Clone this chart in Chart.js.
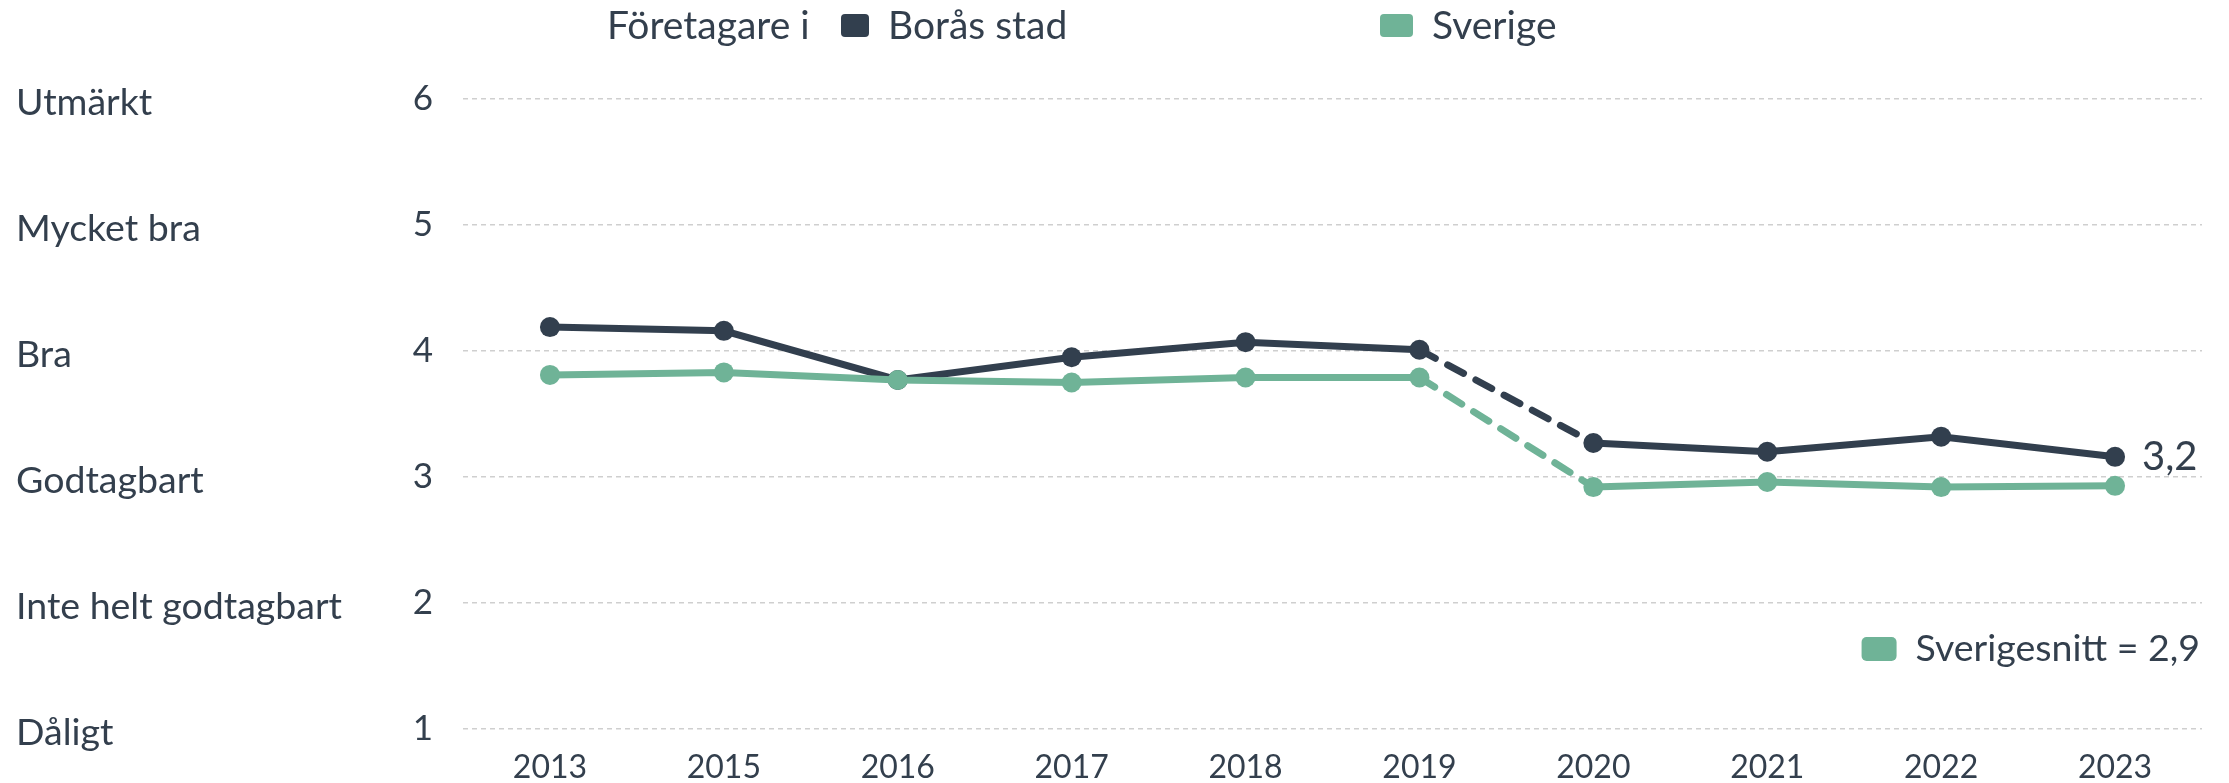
<!DOCTYPE html>
<html lang="sv">
<head>
<meta charset="utf-8">
<title>Företagare i Borås stad</title>
<script src="https://cdn.jsdelivr.net/npm/chart.js@4/dist/chart.umd.min.js"></script>
<style>
  html, body { margin: 0; padding: 0; background: #fff; }
  #wrap { width: 2229px; height: 783px; position: relative; }
</style>
</head>
<body>
<div id="wrap"><canvas id="lineChart"></canvas></div>
<script>
// år och värden
const years = ['2013', '2015', '2016', '2017', '2018', '2019', '2020', '2021', '2022', '2023'];
const borasValues = [4.19, 4.16, 3.77, 3.95, 4.07, 4.01, 3.27, 3.20, 3.32, 3.16];
const sverigeValues = [3.81, 3.83, 3.77, 3.75, 3.79, 3.79, 2.92, 2.96, 2.92, 2.93];
const ratingLabels = ['Dåligt', 'Inte helt godtagbart', 'Godtagbart', 'Bra', 'Mycket bra', 'Utmärkt'];
const legendPrefix = 'Företagare i';
const seriesNames = ['Borås stad', 'Sverige'];
const lastValueLabel = '3,2';
const averageLabel = 'Sverigesnitt = 2,9';

const dark = '#323f4e';
const green = '#6fb397';
const textColor = '#333f4d';
const FONT = 'Lato, "Open Sans", sans-serif';

// streckad linje mellan 2019 och 2020
const dashGap = ctx => ctx.p0DataIndex === 5 ? [18, 14] : undefined;

function roundBox(c, x, y, w, h, r) {
    c.beginPath();
    c.roundRect(x, y, w, h, r);
    c.fill();
}

const extras = {
    id: 'extras',
    afterDraw(chart) {
        const c = chart.ctx;
        const yScale = chart.scales.y;
        c.save();
        c.fillStyle = textColor;
        c.textBaseline = 'middle';

        // betyg till vänster
        c.font = '37.5px ' + FONT;
        c.textAlign = 'left';
        ratingLabels.forEach((txt, i) => {
            c.fillText(txt, 16, yScale.getPixelForValue(i + 1) + 4);
        });

        // legend överst
        c.font = '39px ' + FONT;
        c.fillText(legendPrefix, 607, 26);
        c.fillStyle = dark;
        roundBox(c, 841, 14, 28, 23, 4);
        c.fillStyle = textColor;
        c.fillText(seriesNames[0], 888, 26);
        c.fillStyle = green;
        roundBox(c, 1380, 14, 33, 23, 4);
        c.fillStyle = textColor;
        c.fillText(seriesNames[1], 1432, 26);

        // sista värdet
        const meta = chart.getDatasetMeta(1);
        const last = meta.data[meta.data.length - 1];
        c.font = '40px ' + FONT;
        c.fillText(lastValueLabel, last.x + 27, last.y);

        // sverigesnitt
        c.font = '37.5px ' + FONT;
        c.textAlign = 'right';
        c.fillText(averageLabel, 2200, 649);
        const w = c.measureText(averageLabel).width;
        c.fillStyle = green;
        roundBox(c, 2200 - w - 54, 637, 35, 24, 5);
        c.restore();
    }
};

new Chart(document.getElementById('lineChart'), {
    type: 'line',
    data: {
        labels: years,
        datasets: [{
            label: seriesNames[1],
            data: sverigeValues,
            borderColor: green,
            backgroundColor: green,
            pointBackgroundColor: green,
            borderWidth: 7,
            pointRadius: 10,
            pointBorderWidth: 0,
            borderCapStyle: 'round',
            segment: { borderDash: dashGap }
        }, {
            label: seriesNames[0],
            data: borasValues,
            borderColor: dark,
            backgroundColor: dark,
            pointBackgroundColor: dark,
            borderWidth: 7,
            pointRadius: 10,
            pointBorderWidth: 0,
            borderCapStyle: 'round',
            segment: { borderDash: dashGap }
        }]
    },
    options: {
        responsive: true,
        maintainAspectRatio: false,
        animation: false,
        layout: { padding: { top: 99, right: 27, left: 0, bottom: 0 } },
        plugins: {
            legend: { display: false },
            tooltip: { enabled: false }
        },
        scales: {
            x: {
                offset: true,
                grid: { display: false },
                border: { display: false },
                ticks: { color: textColor, font: { family: FONT, size: 32 }, padding: 11 },
                afterFit: s => { s.height = 54; }
            },
            y: {
                min: 1,
                max: 6,
                ticks: { stepSize: 1, color: textColor, font: { family: FONT, size: 35 }, padding: 30 },
                grid: { color: '#cfcfcf', lineWidth: 1.5, drawTicks: false },
                border: { display: false, dash: [5, 4] },
                afterFit: s => { s.width = 463; }
            }
        }
    },
    plugins: [extras]
});
</script>
</body>
</html>
